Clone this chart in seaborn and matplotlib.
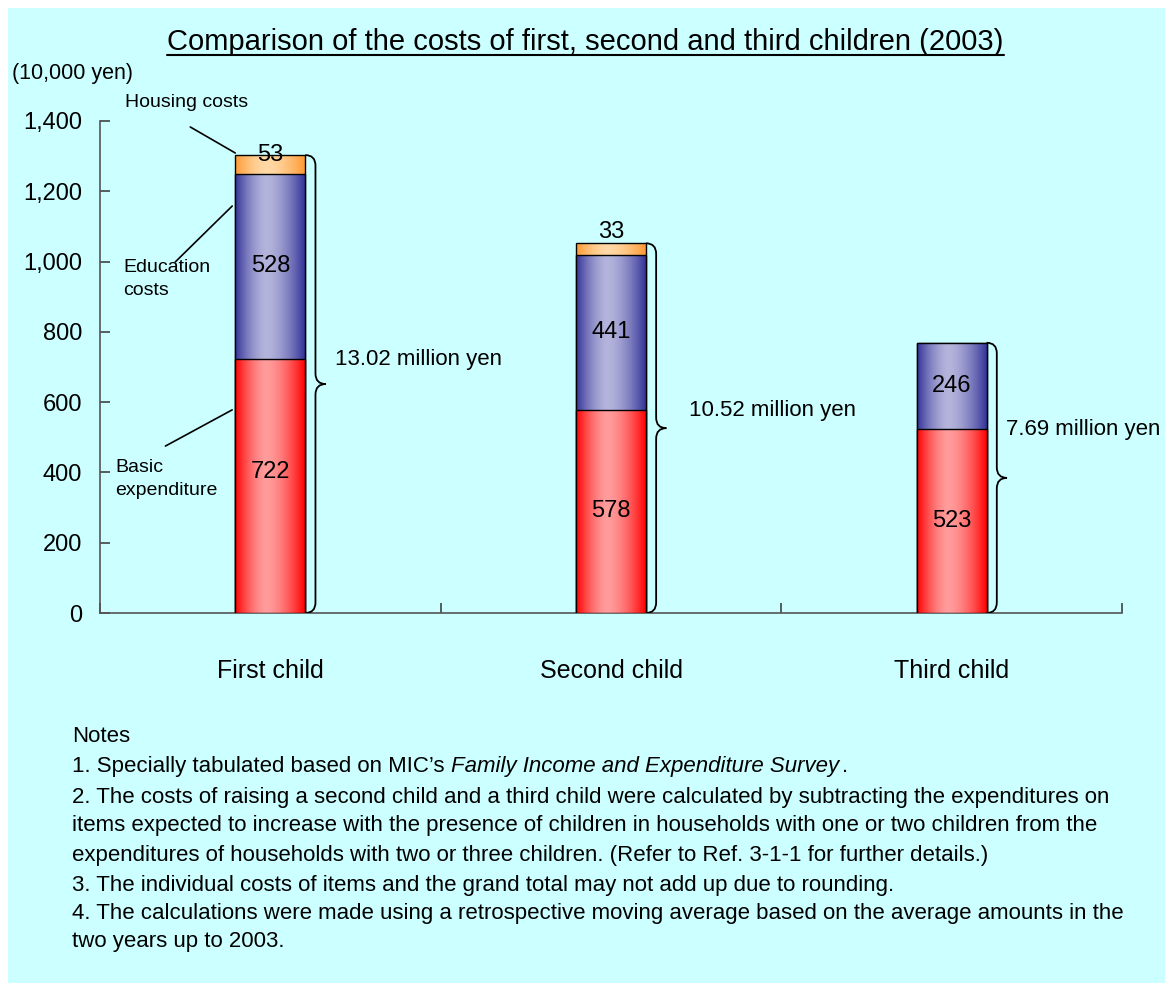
import numpy as np
import pandas as pd
import matplotlib
matplotlib.use('Agg')
import matplotlib.pyplot as plt
from matplotlib.path import Path
from matplotlib.patches import PathPatch, Rectangle
from matplotlib.colors import to_rgb
import seaborn as sns

# Data (10,000 yen)
children = ['First child', 'Second child', 'Third child']
basic = [722, 578, 523]
education = [528, 441, 246]
housing = [53, 33, 0]
totals_label = ['13.02 million yen', '10.52 million yen', '7.69 million yen']
yticks = [0, 200, 400, 600, 800, 1000, 1200, 1400]

df = pd.DataFrame({'child': children, 'basic': basic,
                   'education': education, 'housing': housing})
df['cum_edu'] = df['basic'] + df['education']
df['cum_all'] = df['cum_edu'] + df['housing']

sns.set_style('white')
plt.rcParams['font.family'] = ['Liberation Sans', 'DejaVu Sans']
plt.rcParams['text.color'] = 'black'
plt.rcParams['xtick.color'] = 'black'
plt.rcParams['ytick.color'] = 'black'

fig = plt.figure(figsize=(11.68, 9.83), dpi=100)
fig.patch.set_facecolor('white')
fig.add_artist(Rectangle((8 / 1168, 0), 1157 / 1168, 975 / 983,
                         transform=fig.transFigure, facecolor='#CCFFFF',
                         edgecolor='none', zorder=-10))

ax = fig.add_axes([100 / 1168, 1 - 613 / 983, 1022 / 1168, 492 / 983])
ax.set_facecolor('none')

bar_w = 0.205
layers = [('cum_all', '#FF9933', '#FFD9A6'),
          ('cum_edu', '#333399', '#B4B4DC'),
          ('basic', '#FF0000', '#FF9C9C')]

xs = np.linspace(0, 1, 256)
profile = 1 - np.abs((xs - 0.45) / np.where(xs < 0.45, 0.45, 0.55)) ** 1.6

for z, (col, edge_c, mid_c) in enumerate(layers):
    n0 = len(ax.patches)
    sns.barplot(data=df, x='child', y=col, color=edge_c, width=bar_w,
                errorbar=None, edgecolor='black', linewidth=1.0, ax=ax)
    e = np.array(to_rgb(edge_c))
    m = np.array(to_rgb(mid_c))
    grad = (e[None, :] + (m - e)[None, :] * profile[:, None])[None, :, :]
    for p in ax.patches[n0:]:
        x0, y0 = p.get_x(), p.get_y()
        w, h = p.get_width(), p.get_height()
        if h <= 0:
            continue
        im = ax.imshow(grad, extent=[x0, x0 + w, y0, y0 + h], aspect='auto',
                       interpolation='bilinear', zorder=2 + z)
        im.set_clip_path(p)
        p.set_facecolor('none')
        p.set_zorder(2.5 + z)

ax.set_xlim(-0.5, 2.5)
ax.set_ylim(0, 1400)
ax.set_xlabel('')
ax.set_ylabel('')

# value labels
fs = 17
basic_dy = [40, 0, 0]
housing_dy = [0, 32, 0]
for i in range(3):
    ax.text(i, basic[i] / 2 + basic_dy[i], str(basic[i]), ha='center',
            va='center', fontsize=fs, zorder=10)
    ax.text(i, basic[i] + education[i] / 2, str(education[i]), ha='center',
            va='center', fontsize=fs, zorder=10)
    if housing[i] > 0:
        ax.text(i, df['cum_all'][i] + housing_dy[i], str(housing[i]),
                ha='center', va='center', fontsize=fs, zorder=10)

# braces
def brace(ax, x0, y0, y1, w=0.06, r=30):
    xm = x0 + w / 2
    mid = (y0 + y1) / 2
    verts = [(x0, y1), (xm, y1), (xm, y1 - r), (xm, mid + r),
             (xm, mid), (x0 + w, mid), (xm, mid), (xm, mid - r),
             (xm, y0 + r), (xm, y0), (x0, y0)]
    codes = [Path.MOVETO, Path.CURVE3, Path.CURVE3, Path.LINETO,
             Path.CURVE3, Path.CURVE3, Path.CURVE3, Path.CURVE3,
             Path.LINETO, Path.CURVE3, Path.CURVE3]
    ax.add_patch(PathPatch(Path(verts, codes), facecolor='none',
                           edgecolor='black', lw=1.3, zorder=9))

label_pos = [(0.19, 720), (1.23, 575), (2.16, 521)]
for i in range(3):
    brace(ax, i + bar_w / 2, 0, df['cum_all'][i])
    ax.text(label_pos[i][0], label_pos[i][1], totals_label[i], ha='left',
            va='center', fontsize=16)

# leader lines and series names on first bar
ann = [('Housing costs', (-0.426, 1454), (-0.235, 1383), (-0.103, 1309)),
       ('Education\ncosts', (-0.431, 950), (-0.279, 999), (-0.112, 1158)),
       ('Basic\nexpenditure', (-0.455, 381), (-0.308, 475), (-0.112, 578))]
for txt, tpos, p0, p1 in ann:
    ax.text(tpos[0], tpos[1], txt, ha='left', va='center', fontsize=14,
            linespacing=1.5)
    ax.plot([p0[0], p1[0]], [p0[1], p1[1]], color='black', lw=1.2,
            clip_on=False, zorder=9)

# axes styling
ax.set_yticks(yticks)
ax.set_yticklabels([f'{v:,}' for v in yticks])
ax.tick_params(axis='y', left=True, direction='in', length=7, width=1.1,
               pad=13, labelsize=17, color='#333333')
ax.set_xticks(range(3))
ax.set_xticklabels(children)
ax.set_xticks([-0.5, 0.5, 1.5, 2.5], minor=True)
ax.tick_params(axis='x', which='major', bottom=True, length=0, pad=33,
               labelsize=18)
ax.tick_params(axis='x', which='minor', bottom=True, direction='in',
               length=7, width=1.1, color='#333333')
for s in ['top', 'right']:
    ax.spines[s].set_visible(False)
for s in ['left', 'bottom']:
    ax.spines[s].set_color('#555555')
    ax.spines[s].set_linewidth(1.2)

# title with underline
title = fig.text(0.5013, 1 - 42 / 983,
                 'Comparison of the costs of first, second and third children (2003)',
                 ha='center', va='center', fontsize=21)
fig.text(12 / 1168, 1 - 73 / 983, '(10,000 yen)', ha='left', va='center',
         fontsize=15.5)

fig.canvas.draw()
renderer = fig.canvas.get_renderer()
bb = title.get_window_extent(renderer).transformed(fig.transFigure.inverted())
fig.add_artist(plt.Line2D([bb.x0, bb.x1], [bb.y0 + 0.001, bb.y0 + 0.001],
                          transform=fig.transFigure, color='black', lw=1.5))

# notes
nfs = 16
nx = 72 / 1168
note_y = [737, 766, 797, 826, 856, 885, 913, 942]
fig.text(nx, 1 - note_y[0] / 983, 'Notes', ha='left', va='center', fontsize=nfs)
base1 = 1 - (note_y[1] + 6) / 983
t1 = fig.text(nx, base1, '1. Specially tabulated based on MIC\u2019s ',
              ha='left', va='baseline', fontsize=nfs)
fig.canvas.draw()
b1 = t1.get_window_extent(renderer).transformed(fig.transFigure.inverted())
t2 = fig.text(b1.x1, base1, 'Family Income and Expenditure Survey',
              ha='left', va='baseline', fontsize=nfs, style='italic')
fig.canvas.draw()
b2 = t2.get_window_extent(renderer).transformed(fig.transFigure.inverted())
fig.text(b2.x1 + 0.003, base1, '.', ha='left', va='baseline', fontsize=nfs)
note_lines = [
    '2. The costs of raising a second child and a third child were calculated by subtracting the expenditures on',
    'items expected to increase with the presence of children in households with one or two children from the',
    'expenditures of households with two or three children. (Refer to Ref. 3-1-1 for further details.)',
    '3. The individual costs of items and the grand total may not add up due to rounding.',
    '4. The calculations were made using a retrospective moving average based on the average amounts in the',
    'two years up to 2003.',
]
for yy, line in zip(note_y[2:], note_lines):
    fig.text(nx, 1 - yy / 983, line, ha='left', va='center', fontsize=nfs)

fig.savefig('out.png', dpi=100, facecolor=fig.get_facecolor())
